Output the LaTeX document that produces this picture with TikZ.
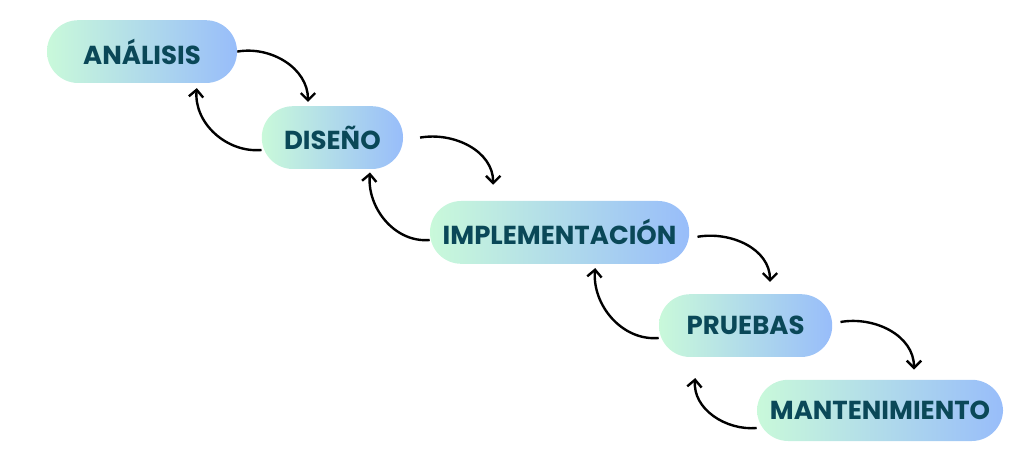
\documentclass[tikz,border=0pt]{standalone}
\usepackage{fontspec}
\usepackage{tikz}
\usetikzlibrary{arrows.meta, positioning, calc}
\newfontfamily\phasefont{Poppins}
\definecolor{phaseText}{HTML}{0A4858}
\definecolor{mintLeft}{HTML}{C9F9DA}
\definecolor{blueRight}{HTML}{98BDFA}
\tikzstyle{phase} = [
  rectangle, rounded corners=0.78cm,
  left color=mintLeft, right color=blueRight, draw=none,
  minimum height=1.57cm, text centered,
  font=\phasefont\bfseries\fontsize{18.5}{22}\selectfont, text=phaseText
]
\tikzstyle{arrow} = [-{Straight Barb[length=1.8mm, width=3.6mm]}, line width=1.7pt]

\begin{document}
\begin{tikzpicture}
  \useasboundingbox (0,0) rectangle (25.6,-11.9);

  % Phases
  \node[phase, minimum width=4.75cm] (ana) at (3.55, -1.29) {ANÁLISIS};
  \node[phase, minimum width=3.53cm] (dis) at (8.31, -3.44) {DISEÑO};
  \node[phase, minimum width=6.48cm] (imp) at (13.99, -5.81) {IMPLEMENTACIÓN};
  \node[phase, minimum width=4.33cm] (pru) at (18.64, -8.14) {PRUEBAS};
  \node[phase, minimum width=6.15cm, minimum height=1.53cm] (man) at (22.0, -10.26) {MANTENIMIENTO};

  % Forward arrows
  \draw[arrow] (ana.east) to[out=10, in=90] ([shift={(-0.61,0.1)}]dis.north);
  \draw[arrow] ([xshift=0.42cm]dis.east) to[out=10, in=90] ([shift={(-1.66,0.4)}]imp.north);
  \draw[arrow] ([shift={(0.2,-0.11)}]imp.east) to[out=10, in=90] ([shift={(0.61,0.3)}]pru.north);
  \draw[arrow] ([shift={(0.2,0.09)}]pru.east) to[out=10, in=90] ([shift={(0.85,0.25)}]man.north);

  % Backward arrows
  \draw[arrow] ([yshift=-0.31cm]dis.west) to[out=185, in=-95] ([shift={(1.37,-0.12)}]ana.south);
  \draw[arrow] ([yshift=-0.19cm]imp.west) to[out=185, in=-95] ([shift={(0.94,-0.08)}]dis.south);
  \draw[arrow] ([yshift=-0.31cm]pru.west) to[out=185, in=-95] ([shift={(0.89,-0.1)}]imp.south);
  \draw[arrow] ([yshift=-0.44cm]man.west) to[out=185, in=-95] ([shift={(-1.26,-0.52)}]pru.south);

\end{tikzpicture}
\end{document}
